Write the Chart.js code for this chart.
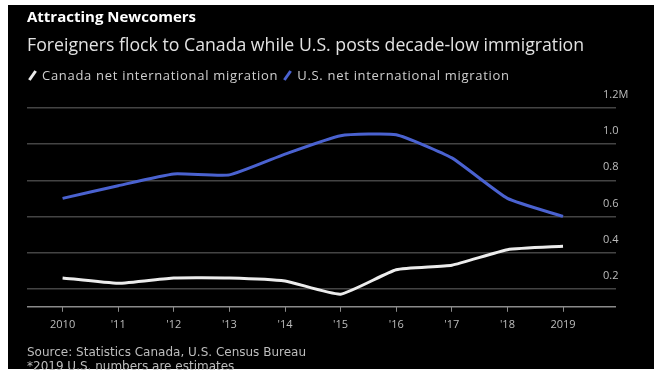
<!DOCTYPE html>
<html>
<head>
<meta charset="utf-8">
<script src="https://cdn.jsdelivr.net/npm/chart.js@4.4.1/dist/chart.umd.min.js"></script>
<style>
  html, body { margin: 0; padding: 0; background: #fff; }
  body { width: 654px; height: 372px; position: relative; overflow: hidden; font-family: "Open Sans", "Liberation Sans", sans-serif; }
  #frame { position: absolute; left: 8px; top: 5px; width: 646px; height: 364px; background: #000; }
  #chart { position: absolute; left: 0; top: 0; }
  .txt { position: absolute; left: 27px; white-space: nowrap; }
  #title { top: 6px; font-size: 15px; font-weight: 700; color: #fff; }
  #subtitle { top: 32px; font-size: 17.7px; color: #e2e2e2; }
  #legend { top: 66px; font-size: 13px; letter-spacing: 0.7px; color: #cfcfcf; }
  #legend .sw { display: inline-block; width: 3px; height: 11px; transform: rotate(35deg); margin: 0 8px 0 4px; vertical-align: -1px; }
  #source { top: 345px; font-family: "DejaVu Sans", sans-serif; font-size: 12px; color: #bdbdbd; line-height: 14px; }
</style>
</head>
<body>
<div id="frame"></div>
<canvas id="chart" width="654" height="372"></canvas>
<div class="txt" id="title">Attracting Newcomers</div>
<div class="txt" id="subtitle">Foreigners flock to Canada while U.S. posts decade-low immigration</div>
<div class="txt" id="legend"><span class="sw" style="background:#ececec"></span>Canada net international migration <span class="sw" style="background:#4a62d0"></span>U.S. net international migration</div>
<div class="txt" id="source">Source: Statistics Canada, U.S. Census Bureau<br>*2019 U.S. numbers are estimates</div>

<script>
// Years on the x axis and their tick labels
const years = [2010, 2011, 2012, 2013, 2014, 2015, 2016, 2017, 2018, 2019];
const yearLabels = ['2010', "'11", "'12", "'13", "'14", "'15", "'16", "'17", "'18", '2019'];

// Net international migration, millions
const canadaMigration = [0.26, 0.23, 0.26, 0.26, 0.243, 0.17, 0.305, 0.33, 0.416, 0.435];
const usMigration = [0.70, 0.77, 0.835, 0.83, 0.945, 1.047, 1.052, 0.924, 0.70, 0.60];

// Value axis ticks
const yTicks = [0.1, 0.2, 0.4, 0.6, 0.8, 1.0, 1.2];

function toPoints(values) {
    return years.map((yr, i) => ({ x: yr, y: values[i] }));
}

const ctx = document.getElementById('chart').getContext('2d');

new Chart(ctx, {
    type: 'line',
    data: {
        datasets: [{
            label: 'U.S. net international migration',
            data: toPoints(usMigration),
            borderColor: '#4a62d0',
            borderWidth: 3,
            pointRadius: 0,
            tension: 0.15
        }, {
            label: 'Canada net international migration',
            data: toPoints(canadaMigration),
            borderColor: '#ececec',
            borderWidth: 3,
            pointRadius: 0,
            tension: 0.15
        }]
    },
    options: {
        responsive: false,
        animation: false,
        layout: { padding: { left: 27, top: 108, right: 0, bottom: 35 } },
        plugins: {
            legend: { display: false },
            tooltip: { enabled: false }
        },
        scales: {
            x: {
                type: 'linear',
                min: 2009.36,
                max: 2019.665,
                afterBuildTicks: (scale) => { scale.ticks = years.map(v => ({ value: v })); },
                border: { display: false },
                grid: { drawOnChartArea: false, drawTicks: true, tickLength: 5, color: '#8a8a8a' },
                ticks: {
                    color: '#bdbdbd',
                    font: { family: 'Open Sans', size: 11 },
                    padding: 6,
                    maxRotation: 0,
                    callback: (v) => yearLabels[years.indexOf(v)]
                }
            },
            y: {
                position: 'right',
                min: 0.1,
                max: 1.2,
                afterBuildTicks: (scale) => { scale.ticks = yTicks.map(v => ({ value: v })); },
                afterFit: (scale) => { scale.width = 54; },
                border: { display: false },
                grid: {
                    tickLength: 16,
                    lineWidth: 1.5,
                    color: (c) => (c.tick && c.tick.value === 0.1) ? '#8a8a8a' : '#444444'
                },
                ticks: {
                    color: '#bdbdbd',
                    font: { family: 'Open Sans', size: 11 },
                    padding: -13,
                    labelOffset: -13,
                    callback: (v) => {
                        if (v === 0.1) return '';
                        if (v === 1.2) return '1.2M';
                        return v.toFixed(1);
                    }
                }
            }
        }
    }
});
</script>
</body>
</html>
